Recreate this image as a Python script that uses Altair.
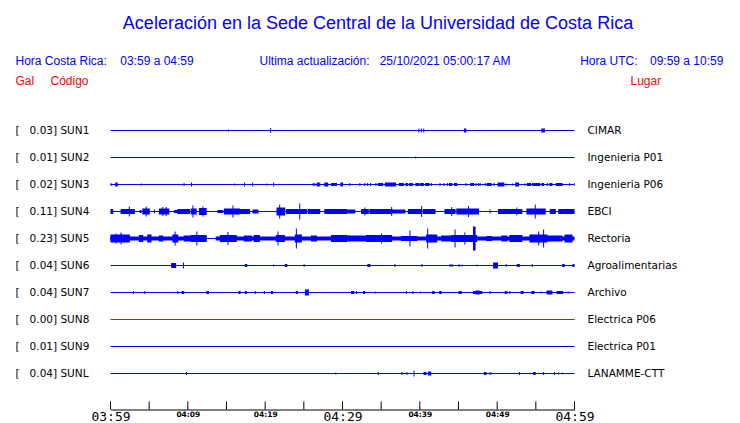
import json
import altair as alt
import pandas as pd

# ---------------- data ----------------
STATIONS = ["SUN1", "SUN2", "SUN3", "SUN4", "SUN5", "SUN6", "SUN7", "SUN8", "SUN9", "SUNL"]
PEAK_GAL = ["0.03", "0.01", "0.02", "0.11", "0.23", "0.04", "0.04", "0.00", "0.01", "0.04"]
PLACES = ["CIMAR", "Ingenieria P01", "Ingenieria P06", "EBCI", "Rectoria",
          "Agroalimentarias", "Archivo", "Electrica P06", "Electrica P01", "LANAMME-CTT"]
WINDOW_MIN = [0, 60]  # minutes after 03:59 (hora Costa Rica)
TICK_MIN = [0, 5, 10, 15, 20, 25, 30, 35, 40, 45, 50, 55, 60]
LABEL_MIN = [0, 10, 20, 30, 40, 50, 60]
LABEL_TXT = ["03:59", "04:09", "04:19", "04:29", "04:39", "04:49", "04:59"]

# events: (start minute, end minute, half amplitude, relative units; 27 = trace spacing)
SUN1_EVENTS = [(15.20, 15.20, 1), (20.64, 20.64, 2.5), (39.82, 39.82, 2), (40.12, 40.12, 2),
               (40.44, 40.44, 2), (45.70, 45.88, 2), (55.70, 56.05, 2)]
SUN2_EVENTS = [(39.40, 39.40, 1)]
SUN3_EVENTS = [(0.0, 0.0, 1.5), (0.61, 0.80, 2), (3.93, 3.93, 1), (9.33, 9.33, 1), (9.50, 9.50, 1),
               (10.41, 10.41, 2), (15.98, 15.98, 1), (17.27, 17.27, 2), (18.31, 18.31, 2),
               (20.13, 20.13, 1), (21.03, 21.03, 2), (26.14, 26.14, 1.5), (26.35, 26.35, 1.5),
               (26.66, 26.85, 2), (26.99, 26.99, 2), (27.64, 28.0, 2), (28.03, 28.03, 1.5),
               (28.51, 29.16, 1.5), (29.72, 29.95, 2), (30.88, 30.88, 1.5), (32.18, 32.18, 1.5),
               (32.83, 32.83, 1.5), (33.18, 33.18, 1.5), (33.56, 33.56, 1.5), (34.25, 34.25, 1.5),
               (34.56, 35.12, 1.5), (35.47, 36.80, 2), (37.28, 37.80, 1.5), (38.14, 38.36, 1.5),
               (38.62, 38.97, 1.5), (39.43, 39.82, 1.5), (40.04, 40.39, 1.5), (40.69, 41.12, 1.5),
               (41.43, 41.43, 1.5), (42.55, 42.55, 1.5), (43.06, 43.06, 1.5), (43.50, 43.50, 1.5),
               (43.76, 44.06, 1.5), (44.41, 44.71, 1.5), (45.88, 45.88, 1.5), (46.52, 46.91, 1.5),
               (47.21, 47.21, 1.5), (47.52, 47.52, 1.5), (47.73, 47.73, 1.5), (48.38, 48.38, 1.5),
               (48.64, 49.15, 1.5), (49.54, 49.54, 1.5), (50.06, 50.80, 2), (51.10, 51.10, 1),
               (51.93, 51.93, 1), (52.32, 52.71, 2), (53.48, 53.48, 1), (53.82, 54.26, 1.5),
               (54.52, 54.86, 1.5), (54.95, 55.43, 1.5), (55.73, 55.94, 1.5), (56.41, 56.41, 1.5),
               (56.76, 57.02, 1.5), (57.58, 58.32, 1.5), (59.31, 59.31, 1.5), (59.91, 59.91, 1.5)]
SUN4_EVENTS = [(0.0, 0.22, 2.5), (1.30, 3.02, 2.5), (2.37, 2.37, 5), (3.76, 3.89, 1.5), (4.11, 4.96, 3),
               (4.54, 4.54, 5), (5.61, 5.61, 2), (6.26, 7.48, 3), (6.70, 6.70, 4.5), (7.13, 7.13, 4.5),
               (8.20, 8.64, 1.5), (8.64, 10.15, 2.5), (10.37, 11.02, 3), (10.59, 10.59, 6),
               (11.44, 12.31, 3.5), (11.88, 11.88, 5), (13.83, 14.48, 1.5), (14.68, 16.63, 3),
               (15.77, 15.77, 6), (16.63, 17.92, 2.5), (18.36, 19.01, 2), (21.47, 22.46, 4),
               (21.81, 21.81, 7), (22.68, 25.27, 2.5), (24.40, 24.40, 8), (25.49, 27.0, 2.5),
               (27.64, 30.45, 2.5), (29.81, 31.53, 2), (32.40, 33.27, 2.5), (32.83, 32.83, 4),
               (33.47, 36.29, 2.5), (36.29, 36.29, 4.5), (36.29, 38.01, 2), (38.45, 40.17, 2.5),
               (40.17, 40.17, 5.5), (40.39, 41.90, 2.5), (43.19, 44.49, 2.5), (44.06, 44.06, 4.5),
               (44.71, 47.52, 3), (46.23, 46.23, 5.5), (49.02, 49.02, 2), (50.11, 53.13, 2.5),
               (52.48, 52.48, 4), (53.78, 56.15, 3), (54.86, 54.86, 7), (56.80, 57.45, 2.5),
               (57.89, 60.0, 2.5)]
SUN5_EVENTS = [(0.0, 12.31, 2), (13.6, 60.0, 2), (0.0, 2.37, 4), (0.65, 0.65, 5),
               (1.30, 1.30, 6), (3.67, 4.11, 3.5), (4.75, 5.18, 4), (6.26, 6.70, 3), (8.0, 8.64, 4),
               (8.29, 8.29, 7), (9.46, 10.37, 3), (10.37, 12.31, 3.5), (11.10, 11.10, 7),
               (14.13, 16.20, 3.5), (15.12, 15.12, 6.5), (17.24, 18.14, 3), (18.53, 19.18, 3.5),
               (21.38, 22.42, 3.5), (21.60, 21.60, 7), (23.84, 24.62, 4), (23.97, 23.97, 10),
               (25.92, 26.57, 3), (28.51, 30.45, 3.5), (29.81, 33.05, 3), (33.05, 36.29, 3.5),
               (34.99, 34.99, 5), (37.58, 39.53, 2.5), (38.66, 38.66, 8), (40.82, 42.12, 4),
               (40.95, 40.95, 10), (42.77, 44.06, 3), (44.06, 47.30, 3.5), (44.49, 44.49, 9),
               (45.75, 45.75, 6), (46.87, 47.08, 12), (48.60, 49.24, 2.5), (50.54, 51.19, 3),
               (51.58, 53.13, 3.5), (54.17, 56.37, 4), (55.30, 55.30, 7), (55.94, 55.94, 9),
               (56.37, 58.32, 3), (58.71, 59.61, 4)]
SUN6_EVENTS = [(7.84, 8.36, 2.5), (9.37, 9.37, 3), (17.37, 17.56, 1.5), (21.03, 21.03, 1),
               (22.55, 22.74, 1.5), (24.97, 24.97, 1.5), (33.21, 33.47, 1.5), (36.71, 36.71, 1.5),
               (40.21, 40.21, 1.5), (43.84, 43.84, 1.5), (44.10, 44.10, 1.5), (45.01, 45.01, 1.5),
               (45.40, 45.40, 1), (47.34, 47.34, 1), (49.47, 49.98, 3), (51.10, 51.10, 1.5),
               (52.54, 52.80, 1.5), (54.47, 54.47, 1.5), (58.41, 58.60, 1.5), (59.74, 59.90, 1.5)]
SUN7_EVENTS = [(2.89, 2.89, 1.5), (4.37, 4.37, 1.5), (8.64, 8.64, 1.5), (9.20, 9.40, 1.5),
               (12.40, 12.60, 1.5), (16.55, 16.70, 1.5), (17.37, 17.50, 1.5), (18.66, 18.66, 1.5),
               (19.83, 19.83, 1.5), (20.73, 20.90, 1.5), (23.97, 24.10, 1.5), (25.14, 25.53, 3),
               (31.10, 31.40, 1.5), (31.75, 31.75, 1.5), (32.66, 32.80, 1.5), (34.17, 34.17, 1),
               (38.19, 38.19, 1.5), (39.05, 39.05, 1.5), (40.00, 40.00, 1), (41.60, 41.80, 1.5),
               (42.51, 42.70, 1.5), (45.01, 45.30, 1.5), (46.87, 47.95, 1.5), (47.21, 47.60, 2),
               (49.02, 49.02, 1.5), (50.97, 51.20, 1.5), (51.58, 51.58, 1.5), (53.04, 53.30, 1.5),
               (54.43, 54.70, 1.5), (55.63, 55.63, 1), (56.37, 57.02, 2), (57.67, 58.41, 1.5),
               (59.13, 59.13, 1)]
SUN8_EVENTS = []
SUN9_EVENTS = []
SUNL_EVENTS = [(9.76, 9.76, 1.5), (29.07, 29.07, 1), (34.56, 34.56, 1.5), (37.62, 37.62, 1.5),
               (38.27, 38.27, 1.5), (39.18, 39.18, 3), (40.47, 40.73, 1.5), (41.04, 41.34, 2),
               (48.30, 48.50, 1.5), (48.95, 49.15, 1), (52.83, 52.83, 1.5), (54.65, 54.85, 1.5),
               (55.94, 55.94, 1.5), (57.37, 57.37, 1.5), (57.89, 57.89, 1), (58.41, 58.41, 1)]

EVENTS = [SUN1_EVENTS, SUN2_EVENTS, SUN3_EVENTS, SUN4_EVENTS, SUN5_EVENTS,
          SUN6_EVENTS, SUN7_EVENTS, SUN8_EVENTS, SUN9_EVENTS, SUNL_EVENTS]

# ---------------- layout / style ----------------
BLUE = "#0000ff"
RED = "#ff0000"
TRACE_COLOR = {"SUN8": RED}
SPACING = 27          # one unit = one pixel
W, H = 464, 306
X0, Y0 = 110.5, 103.5  # page position of plot origin
MIN_DUR = 0.13        # one pixel of time

base_rows = []
for i, s in enumerate(STATIONS):
    base_rows.append({"station": s, "pos": i * SPACING, "start": WINDOW_MIN[0],
                      "end": WINDOW_MIN[1], "color": TRACE_COLOR.get(s, BLUE)})
base_df = pd.DataFrame(base_rows)

ev_rows = []
for i, (s, evs) in enumerate(zip(STATIONS, EVENTS)):
    for (a, b, amp) in evs:
        ev_rows.append({"station": s, "t0": a, "t1": min(b + MIN_DUR, WINDOW_MIN[1]),
                        "lo": i * SPACING - amp, "hi": i * SPACING + amp,
                        "color": TRACE_COLOR.get(s, BLUE)})
ev_df = pd.DataFrame(ev_rows)

tick_df = pd.DataFrame({"t": TICK_MIN, "y0": [H - SPACING] * len(TICK_MIN)})

left_labels = [f"[\u00a0\u00a0\u00a0{g}]\u00a0{s}" for g, s in zip(PEAK_GAL, STATIONS)]
ydom = [-SPACING, H - SPACING]
yvals = [i * SPACING for i in range(len(STATIONS))]

xscale = alt.Scale(domain=WINDOW_MIN, nice=False, zero=False)
big = "datum.value % 30 === 0"
x_axis = alt.Axis(
    values=LABEL_MIN,
    labelExpr=f"{json.dumps(LABEL_TXT)}[indexof({json.dumps(LABEL_MIN)}, datum.value)]",
    grid=False, ticks=False, tickSize=0, domain=True, domainColor="black", domainWidth=1,
    labelPadding=1, labelBaseline="top", labelColor="black", labelFlush=False, labelOverlap=False,
    labelFont={"condition": {"test": big, "value": "DejaVu Sans Mono"}, "value": "DejaVu Sans"},
    labelFontSize={"condition": {"test": big, "value": 13}, "value": 7.5},
    labelFontWeight={"condition": {"test": big, "value": "normal"}, "value": "bold"},
    title=None,
)


def yscale():
    return alt.Scale(domain=ydom, reverse=True, nice=False, zero=False)


base = alt.Chart(base_df).mark_rule(strokeWidth=1).encode(
    x=alt.X("start:Q", scale=xscale, axis=x_axis),
    x2="end:Q",
    y=alt.Y("pos:Q", scale=yscale(),
            axis=alt.Axis(orient="left", values=yvals, grid=False, ticks=False, tickSize=0,
                          domain=False, labelAlign="left", labelPadding=95.5,
                          labelFont="DejaVu Sans", labelFontSize=10.5, labelColor="black",
                          labelExpr=f"{json.dumps(left_labels, ensure_ascii=False)}[round(datum.value / {SPACING})]",
                          title=None)),
    color=alt.Color("color:N", scale=None),
)

bursts = alt.Chart(ev_df).mark_rect(strokeWidth=0).encode(
    x=alt.X("t0:Q", scale=xscale, axis=x_axis),
    x2="t1:Q",
    y=alt.Y("lo:Q", scale=yscale(),
            axis=alt.Axis(orient="right", values=yvals, grid=False, ticks=False, tickSize=0,
                          domain=False, labelAlign="left", labelPadding=12.5,
                          labelFont="DejaVu Sans", labelFontSize=10.5, labelColor="black",
                          labelExpr=f"{json.dumps(PLACES, ensure_ascii=False)}[round(datum.value / {SPACING})]",
                          title=None)),
    y2="hi:Q",
    color=alt.Color("color:N", scale=None),
)

ticks = alt.Chart(tick_df).mark_rule(color="black", strokeWidth=1).encode(
    x=alt.X("t:Q", scale=xscale, axis=x_axis),
    y=alt.Y("y0:Q", scale=yscale(), axis=None),
    y2=alt.Y2(datum=H - SPACING - 8),
)


def header(text, px, py, color, size, align="left"):
    return alt.Chart(pd.DataFrame({"t": [text]})).mark_text(
        align=align, baseline="alphabetic", font="Liberation Sans", fontSize=size, color=color
    ).encode(x=alt.value(px - X0), y=alt.value(py - Y0), text="t:N")


texts = [
    header("Aceleración en la Sede Central de la Universidad de Costa Rica", 378, 29, BLUE, 18, "center"),
    header("Hora Costa Rica:", 15.5, 64.5, BLUE, 12),
    header("03:59 a 04:59", 120.3, 64.5, BLUE, 12),
    header("Ultima actualización:", 259.5, 64.5, BLUE, 12),
    header("25/10/2021 05:00:17 AM", 379.7, 64.5, BLUE, 12),
    header("Hora UTC:", 580.2, 64.5, BLUE, 12),
    header("09:59 a 10:59", 650, 64.5, BLUE, 12),
    header("Gal", 15.5, 85, RED, 12),
    header("Código", 50.5, 85, RED, 12),
    header("Lugar", 630.5, 85, RED, 12),
]

chart = alt.layer(base, bursts, ticks, *texts).resolve_scale(y="independent").properties(
    width=W, height=H,
    autosize=alt.AutoSizeParams(type="none"),
    padding={"left": X0 - 8, "top": Y0 - 8, "right": 724 - (X0 - 8) - W, "bottom": 15},
    background="white",
).configure_view(stroke=None)

chart.save("out.html", embed_options={"renderer": "svg", "actions": False})
